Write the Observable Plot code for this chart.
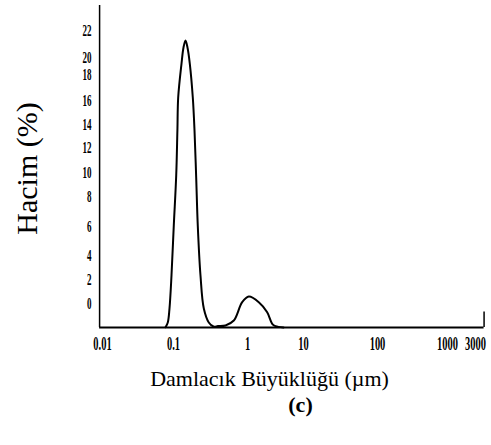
<!DOCTYPE html>
<html>
<head>
<meta charset="utf-8">
<script src="https://cdn.jsdelivr.net/npm/d3@7"></script>
<script src="https://cdn.jsdelivr.net/npm/@observablehq/plot@0.6"></script>
<style>
  html, body { margin: 0; padding: 0; background: #fff; }
  #chart svg { display: block; background: #fff; }
</style>
</head>
<body>
<div id="chart"></div>
<script>
// Tick labels and where the (irregular, scanned) axes place them
const xTicks = [0.01, 0.1, 1, 10, 100, 1000, 3000];
const xTickPx = [102, 173, 247, 303, 377, 447, 475];
const yTicks = [0, 2, 4, 6, 8, 10, 12, 14, 16, 18, 20, 22];
const yTickPx = [303, 279, 255, 226, 196, 172, 147, 124, 100, 74, 57, 30];

// Axis extents (value units)
const xAxisMin = 0.0091, xAxisMax = 4200;
const yBase = -2, yTop = 23.85, yEndTick = -0.7;

// Droplet size distribution (µm, volume % on the figure's axis)
const size = [0.0772, 0.0831, 0.0878, 0.0937, 0.1009, 0.1088, 0.1129, 0.1157, 0.1283, 0.1365, 0.1452,
              0.1545, 0.1660, 0.1823, 0.1923, 0.2026, 0.2128, 0.2316, 0.2569, 0.2998, 0.3475, 0.3993,
              0.5038, 0.6529, 0.8477, 1.055, 1.591, 2.247, 2.76, 3.16, 4.39];
const volume = [-1.98, -1.58, -0.42, 2.33, 6.07, 9.75, 13.48, 16.23, 19.29, 20.74, 21.26,
                20.74, 19.29, 16.23, 13.48, 9.58, 6.07, 2.33, -0.42, -1.58, -1.92, -1.88,
                -1.83, -1.42, 0.11, 0.58, 0.11, -0.73, -1.69, -1.89, -2.0];

const data = size.map((s, i) => ({size: s, volume: volume[i]}));
const serif = "Liberation Serif, Times New Roman, serif";

const chart = Plot.plot({
  width: 491,
  height: 445,
  marginLeft: 99,
  marginRight: 6,
  marginTop: 5,
  marginBottom: 118,
  x: { type: "log", domain: xTicks, range: xTickPx, axis: null },
  y: { type: "linear", domain: yTicks, range: yTickPx, axis: null },
  marks: [
    Plot.ruleY([yBase], {x1: xAxisMin, x2: xAxisMax, stroke: "#000", strokeWidth: 1.8}),
    Plot.ruleX([xAxisMin], {y1: yBase, y2: yTop, stroke: "#000", strokeWidth: 1.5}),
    Plot.ruleX([xAxisMax], {y1: yBase, y2: yEndTick, stroke: "#000", strokeWidth: 1.5}),
    Plot.line(data, {x: "size", y: "volume", curve: "catmull-rom", stroke: "#000", strokeWidth: 2}),
    // tick labels (first two text marks)
    Plot.text(xTicks, {x: d => d, text: d => String(d), frameAnchor: "bottom", textAnchor: "middle",
      lineAnchor: "middle", dy: 16.5, fontFamily: serif, fontWeight: "bold", fontSize: 19, fill: "#000"}),
    Plot.text(yTicks, {y: d => d, text: d => String(d), frameAnchor: "left", textAnchor: "end",
      lineAnchor: "middle", dx: -8, fontFamily: serif, fontWeight: "bold", fontSize: 17, fill: "#000"}),
    // titles
    Plot.text(["Hacim (%)"], {frameAnchor: "left", textAnchor: "middle", lineAnchor: "middle",
      rotate: -90, dx: -72, dy: 2, fontSize: 30, fontFamily: serif, fill: "#000"}),
    Plot.text(["Damlacık Büyüklüğü (µm)"], {frameAnchor: "bottom", textAnchor: "middle", lineAnchor: "middle",
      dx: -23, dy: 51, fontSize: 22, fontFamily: serif, fill: "#000"}),
    Plot.text(["(c)"], {frameAnchor: "bottom", textAnchor: "middle", lineAnchor: "middle",
      dx: 8, dy: 77, fontSize: 22, fontWeight: "bold", fontFamily: serif, fill: "#000"})
  ]
});
document.getElementById("chart").appendChild(chart);

// The printed tick labels are in a strongly condensed face: squeeze them horizontally
// about their own anchor point.
const textGroups = chart.querySelectorAll('g[aria-label="text"]');
[[textGroups[0], 0.55], [textGroups[1], 0.53]].forEach(([g, k]) => {
  if (!g) return;
  g.querySelectorAll("text").forEach(t => {
    const tr = t.getAttribute("transform");
    if (tr) {
      t.setAttribute("transform", `${tr} scale(${k},1)`);
    } else {
      const x = +t.getAttribute("x") || 0, y = +t.getAttribute("y") || 0;
      t.removeAttribute("x"); t.removeAttribute("y");
      t.setAttribute("transform", `translate(${x},${y}) scale(${k},1)`);
    }
  });
});
</script>
</body>
</html>
